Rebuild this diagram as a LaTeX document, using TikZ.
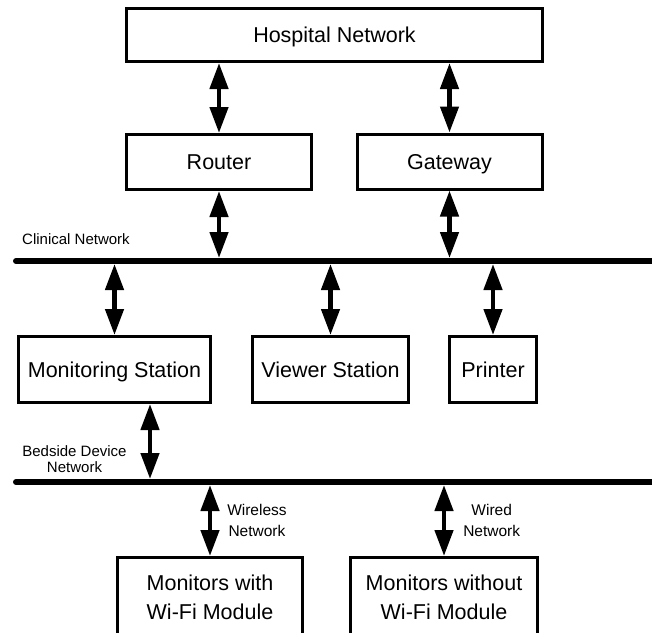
\documentclass[tikz,border=0pt]{standalone}
\usepackage{fontspec}
\setmainfont{Liberation Sans}
\usetikzlibrary{arrows.meta,positioning,calc}
\tikzset{
  box/.style={draw=black, line width=3pt, fill=white, align=center,
              font=\fontsize{21.5}{29}\selectfont, inner sep=0pt, minimum height=55pt,
              text depth=0pt},
  bus/.style={draw=black, line width=6pt, line cap=round},
  biar/.style={{Triangle[length=26pt,width=18pt]}-{Triangle[length=26pt,width=18pt]},
               draw=black, line width=4.5pt},
  lbl/.style={font=\fontsize{15}{16.5}\selectfont, align=center, inner sep=0pt},
  lblb/.style={lbl, font=\fontsize{15.5}{20.5}\selectfont},
}

\begin{document}
\begin{tikzpicture}[x=1pt, y=-1pt]
\useasboundingbox (0,0) rectangle (652,632);

\node[box, minimum width=416pt, minimum height=53pt] (hosp) at (334.5,35) {Hospital Network};
\node[box, minimum width=185pt] (router) at (219,162) {Router};
\node[box, minimum width=185pt] (gate) at (449.5,161.5) {Gateway};

% clinical network bus
\coordinate (clinW) at (16,261);
\coordinate (clinE) at (660,261);
\draw[bus] (clinW) -- (clinE);
\node[lbl, anchor=base west] (clinlbl) at (22,244) {Clinical Network};

\node[box, minimum width=192pt, minimum height=66pt] (mon) at (114.5,369.5) {Monitoring Station};
\node[box, minimum width=156pt, minimum height=66pt] (view) at (330.5,369.5) {Viewer Station};
\node[box, minimum width=87pt, minimum height=66pt] (print) at (493,369.5) {Printer};

% bedside device bus
\coordinate (bedW) at (16,482);
\coordinate (bedE) at (660,482);
\draw[bus] (bedW) -- (bedE);
\node[lbl, anchor=north] (bedlbl) at (74.5,445) {Bedside Device\\Network};

\node[box, minimum width=185pt, minimum height=79pt] (wifi) at (210,597) {Monitors with\\Wi-Fi Module};
\node[box, minimum width=187pt, minimum height=79pt] (nowifi) at (444,597) {Monitors without\\Wi-Fi Module};

\draw[biar] (hosp.south -| router) -- (router.north);
\draw[biar] (hosp.south -| gate) -- (gate.north);
\draw[biar] (router.south) -- ([yshift=3pt]router.south |- clinW);
\draw[biar] (gate.south) -- ([yshift=3pt]gate.south |- clinW);
\draw[biar] ([yshift=-3pt]mon.north |- clinW) -- (mon.north);
\draw[biar] ([yshift=-3pt]view.north |- clinW) -- (view.north);
\draw[biar] ([yshift=-3pt]print.north |- clinW) -- (print.north);
\draw[biar] ($(mon.south)+(35.5,0)$) coordinate (monport) -- ([yshift=3pt]monport |- bedW);
\draw[biar] ([yshift=-3pt]wifi.north |- bedW) -- (wifi.north)
  node[lblb, midway, right=15pt] (wlbl) {Wireless\\Network};
\draw[biar] ([yshift=-3pt]nowifi.north |- bedW) -- (nowifi.north)
  node[lblb, midway, right=17pt] (wdlbl) {Wired\\Network};
\end{tikzpicture}
\end{document}
